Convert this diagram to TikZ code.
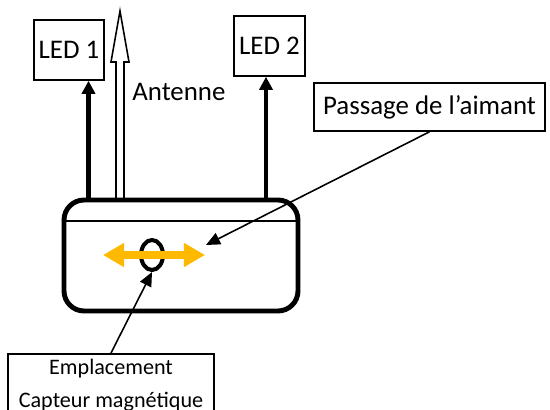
\documentclass[tikz,border=0pt]{standalone}
\usepackage{fontspec}
\setmainfont{Carlito}
\usetikzlibrary{arrows.meta,shapes.geometric}
\definecolor{jaune}{RGB}{255,185,0}

\begin{document}
\begin{tikzpicture}[x=0.02cm, y=-0.02cm, every node/.style={font=\fontsize{15.3}{18}\selectfont},
  labelbox/.style={draw, line width=0.9pt, inner sep=0pt},
  ledarrow/.style={line width=2.8pt, -{Triangle[length=7.5pt,width=7.5pt]}},
  fleche/.style={line width=0.9pt, -{Triangle[length=8pt,width=7pt]}}]
  \clip (0,0) rectangle (550,409);
  \node[labelbox, minimum width=1.4cm, minimum height=1.2cm] (led1) at (69,50) {LED 1};
  \node[labelbox, minimum width=1.42cm, minimum height=1.2cm] (led2) at (269.5,46) {LED 2};
  \node[labelbox, minimum width=4.62cm, minimum height=0.96cm] (passage) at (429.5,107) {Passage de l’aimant};

  % antenne
  \draw[line width=0.9pt, fill=white] (116,198) -- (116,62) -- (111,62) -- (120,11) -- (129,62) -- (124,62) -- (124,198);
  \node[anchor=base west, inner sep=0pt] (antenne) at (132,100) {Antenne};

  \coordinate (pied1) at (88.5,200);
  \coordinate (pied2) at (266,200);
  \draw[ledarrow] (pied1) -- (pied1 |- led1.south);
  \draw[ledarrow] (pied2) -- (pied2 |- led2.south);

  % boitier
  \node[draw, line width=2.8pt, rounded corners=0.4cm, minimum width=4.68cm, minimum height=2.22cm] (boitier) at (181,255.5) {};
  \draw[line width=1.1pt] ([yshift=-0.46cm]boitier.north west) -- ([yshift=-0.46cm]boitier.north east);

  \node[draw, ellipse, line width=2.3pt, minimum width=0.44cm, minimum height=0.6cm, inner sep=0pt] (capteur) at (152,255) {};
  \draw[jaune, line width=4pt, {Triangle[length=12pt,width=13pt]}-{Triangle[length=12pt,width=13pt]}]
    ([xshift=-0.98cm]capteur.center) -- ([xshift=1.06cm]capteur.center);

  \coordinate (aimant) at (206,245);
  \draw[fleche] (passage.south) -- (aimant);

  \node[labelbox, anchor=north, minimum width=4.12cm, inner ysep=3pt, align=center,
    font=\fontsize{12.6}{18.7}\selectfont] (emplacement) at (111,353) {Emplacement\\Capteur magnétique};
  \draw[fleche] (emplacement.north) -- (capteur.south);
\end{tikzpicture}
\end{document}
